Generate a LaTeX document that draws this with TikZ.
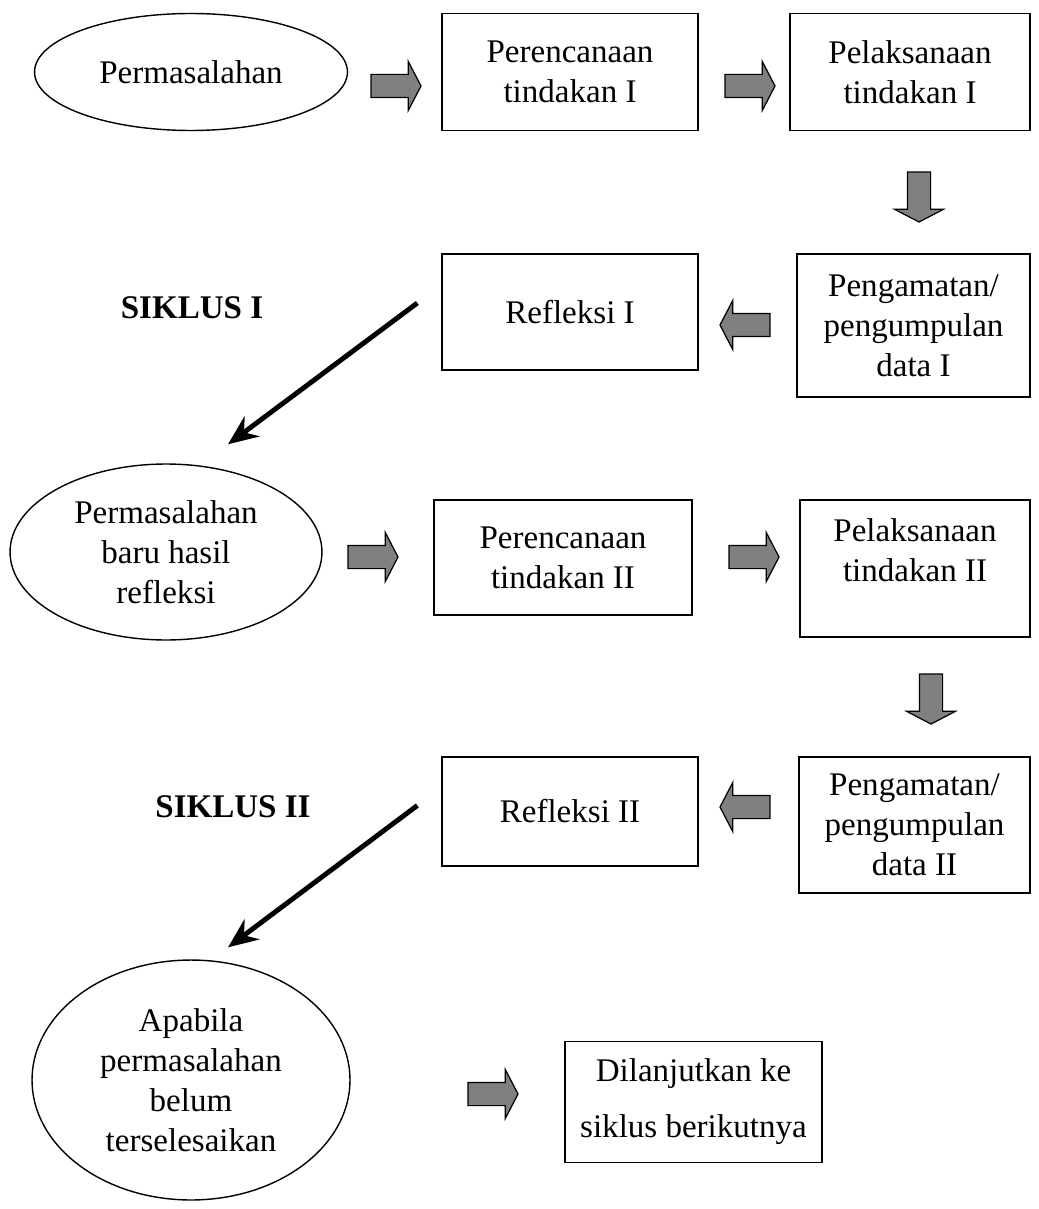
\documentclass[tikz,border=0pt]{standalone}
\usepackage{fontspec}
\setmainfont{Liberation Serif}
\usetikzlibrary{calc,shapes.geometric,shapes.arrows,arrows.meta}

\begin{document}
\begin{tikzpicture}[x=0.02cm, y=-0.02cm,
  font=\fontsize{18.8}{22.8}\selectfont,
  box/.style={rectangle, draw, line width=0.8pt, align=center, inner sep=0pt},
  oval/.style={ellipse, draw, line width=0.8pt, align=center, inner sep=0pt},
  blockarrow/.style={single arrow, draw, line width=0.7pt, fill=black!50,
    inner xsep=0pt, inner ysep=0.22cm, minimum height=1cm,
    single arrow head extend=0.26cm, single arrow tip angle=125},
  flow/.style={line width=2.8pt, -{Stealth[length=6mm, width=5mm, inset=2mm]}}]
\useasboundingbox (0,0) rectangle (1038,1209);

% siklus I
\node (oval1) [oval, minimum width=6.26cm, minimum height=2.34cm] at (191,72) {Permasalahan};
\node (plan1) [box, minimum width=5.12cm, minimum height=2.34cm] at (570,72) {Perencanaan\\tindakan I};
\node (do1) [box, minimum width=4.8cm, minimum height=2.34cm] at (910,72) {Pelaksanaan\\tindakan I};
\node (obs1) [box, minimum width=4.66cm, minimum height=2.86cm] at (913.5,325.5) {Pengamatan/\\pengumpulan\\data I};
\node (refl1) [box, minimum width=5.12cm, minimum height=2.32cm] at (570,312) {Refleksi I};
\node (siklus1) at (192,308) {\textbf{SIKLUS I}};

\node (a1) [blockarrow] at (393,86) {};
\node (a2) [blockarrow] at (747,86) {};
\node (a3) [blockarrow, rotate=-90] at (919,194) {};
\node (a4) [blockarrow, rotate=180] at (748,325) {};

% siklus II
\node (oval2) [oval, minimum width=6.24cm, minimum height=3.52cm] at (166,552) {Permasalahan\\baru hasil\\refleksi};
\node (plan2) [box, minimum width=5.16cm, minimum height=2.3cm] at (563,557.5) {Perencanaan\\tindakan II};
\node (do2) [box, minimum width=4.6cm, minimum height=2.74cm,
  label={[align=center, yshift=0.36cm]center:Pelaksanaan\\tindakan II}] at (915,568.5) {};
\node (obs2) [box, minimum width=4.62cm, minimum height=2.72cm] at (914.5,825) {Pengamatan/\\pengumpulan\\data II};
\node (refl2) [box, minimum width=5.12cm, minimum height=2.18cm] at (570,811.5) {Refleksi II};
\node (siklus2) at (233,807) {\textbf{SIKLUS II}};

\node (a5) [blockarrow] at (370,557) {};
\node (a6) [blockarrow] at (751,557) {};
\node (a7) [blockarrow, rotate=-90] at (931,696) {};
\node (a8) [blockarrow, rotate=180] at (748,807) {};

% lanjut
\node (oval3) [oval, minimum width=6.36cm, minimum height=4.8cm] at (191,1080) {Apabila\\permasalahan\\belum\\terselesaikan};
\node (next) [box, minimum width=5.14cm, minimum height=2.42cm] at (693.5,1102) {Dilanjutkan ke\\[0.32cm]siklus berikutnya};
\node (a9) [blockarrow] at (490,1094) {};

\draw [flow] ($(refl1.west) + (-24,-9)$) -- ($(oval2.north) + (62,-19)$);
\draw [flow] ($(refl2.west) + (-24,-6)$) -- ($(oval3.north) + (37,-12)$);

\end{tikzpicture}
\end{document}
